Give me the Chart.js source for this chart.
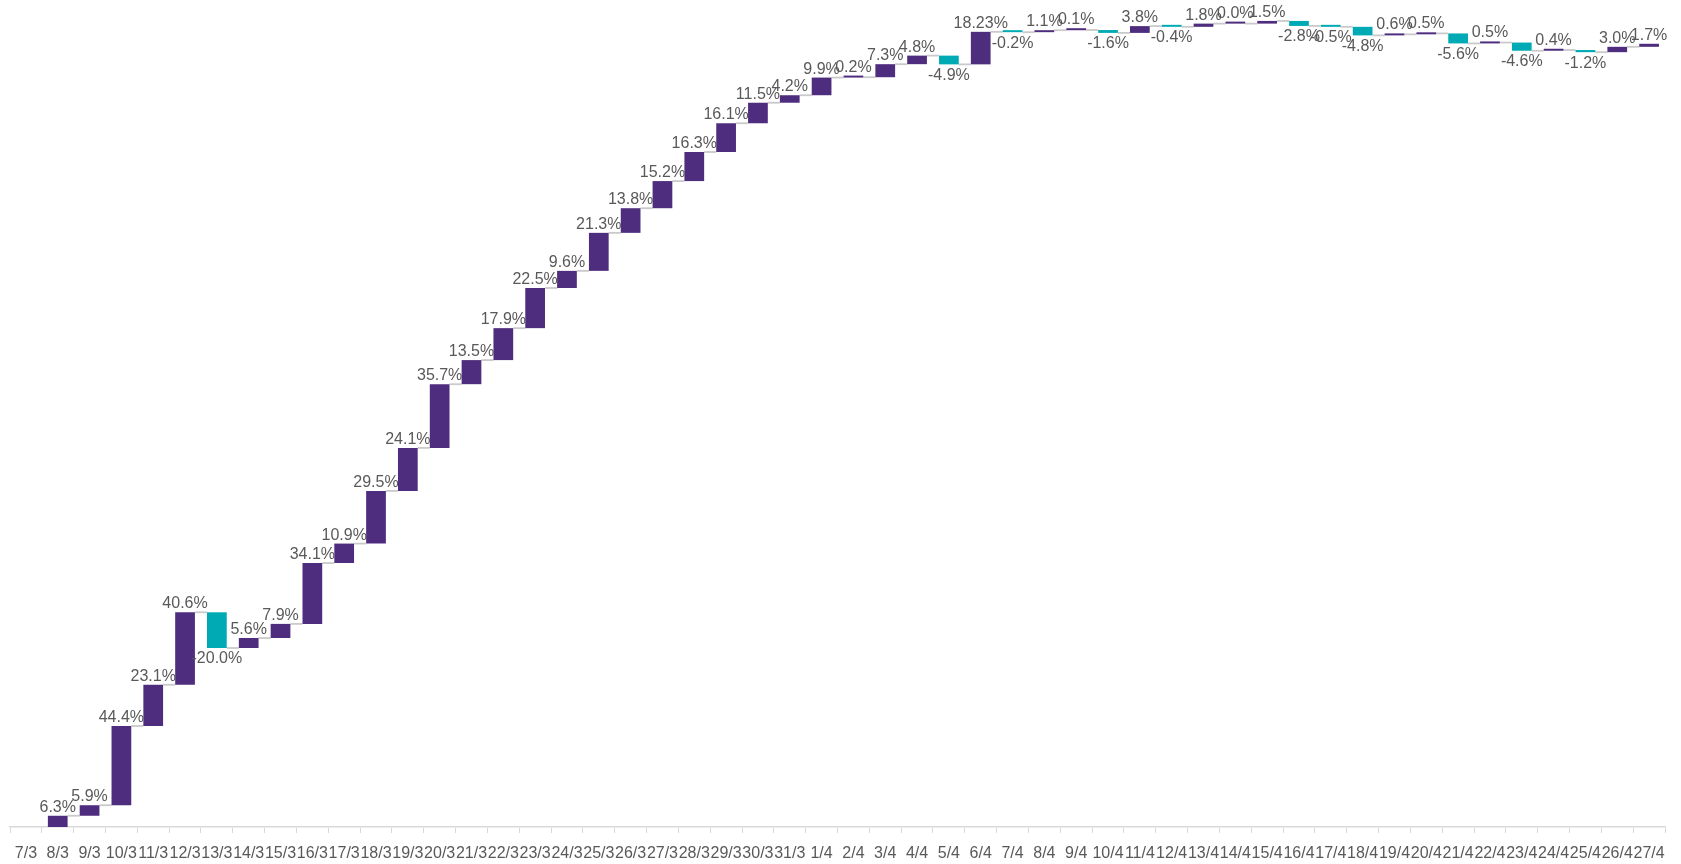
<!DOCTYPE html>
<html>
<head>
<meta charset="utf-8">
<script src="https://cdn.jsdelivr.net/npm/chart.js@4.4.1/dist/chart.umd.min.js"></script>
<style>
  html, body { margin: 0; padding: 0; background: #fff; }
  canvas { display: block; }
</style>
</head>
<body>
<canvas id="waterfall" width="1681" height="864"></canvas>
<script>
// days (7 March - 27 April)
var days = ['7/3', '8/3', '9/3', '10/3', '11/3', '12/3', '13/3', '14/3', '15/3', '16/3',
    '17/3', '18/3', '19/3', '20/3', '21/3', '22/3', '23/3', '24/3', '25/3', '26/3',
    '27/3', '28/3', '29/3', '30/3', '31/3', '1/4', '2/4', '3/4', '4/4', '5/4',
    '6/4', '7/4', '8/4', '9/4', '10/4', '11/4', '12/4', '13/4', '14/4', '15/4',
    '16/4', '17/4', '18/4', '19/4', '20/4', '21/4', '22/4', '23/4', '24/4', '25/4',
    '26/4', '27/4'];

// daily change in %
var changes = [null, 6.3, 5.9, 44.4, 23.1, 40.6, -20.0, 5.6, 7.9, 34.1,
    10.9, 29.5, 24.1, 35.7, 13.5, 17.9, 22.5, 9.6, 21.3, 13.8,
    15.2, 16.3, 16.1, 11.5, 4.2, 9.9, 0.2, 7.3, 4.8, -4.9,
    18.23, -0.2, 1.1, 0.1, -1.6, 3.8, -0.4, 1.8, 0.0, 1.5,
    -2.8, -0.5, -4.8, 0.6, 0.5, -5.6, 0.5, -4.6, 0.4, -1.2,
    3.0, 1.7];

var upColor = '#4E2D7E';
var downColor = '#00AAB5';
var textColor = '#595959';
var fontFamily = '"Liberation Sans Narrow", "Liberation Sans", Arial, sans-serif';

// floating bars: [start, end] from the running total
var bars = [];
var total = 0;
for (var i = 0; i < changes.length; i++) {
    if (changes[i] === null) { bars.push(null); continue; }
    bars.push([total, total + changes[i]]);
    total += changes[i];
}

function fmt(v) {
    var s = (Math.round(v * 10) === v * 10) ? v.toFixed(1) : String(v);
    return s + '%';
}

// grey connectors between the bars
var connectors = {
    id: 'connectors',
    beforeDatasetsDraw: function (chart) {
        var meta = chart.getDatasetMeta(0);
        var y = chart.scales.y;
        var ctx = chart.ctx;
        ctx.save();
        ctx.strokeStyle = '#CACACA';
        ctx.lineWidth = 1.8;
        for (var i = 0; i < bars.length - 1; i++) {
            if (!bars[i] || !bars[i + 1]) continue;
            var a = meta.data[i], b = meta.data[i + 1];
            var py = y.getPixelForValue(bars[i][1]);
            ctx.beginPath();
            ctx.moveTo(a.x + a.width / 2, py);
            ctx.lineTo(b.x - b.width / 2, py);
            ctx.stroke();
        }
        ctx.restore();
    }
};

// value labels above / below the bars
var valueLabels = {
    id: 'valueLabels',
    afterDatasetsDraw: function (chart) {
        var meta = chart.getDatasetMeta(0);
        var ctx = chart.ctx;
        ctx.save();
        ctx.font = '16px ' + fontFamily;
        ctx.fillStyle = textColor;
        ctx.textAlign = 'center';
        for (var i = 0; i < changes.length; i++) {
            if (changes[i] === null) continue;
            var el = meta.data[i];
            var top = Math.min(el.y, el.base), bottom = Math.max(el.y, el.base);
            if (changes[i] >= 0) {
                ctx.textBaseline = 'alphabetic';
                ctx.fillText(fmt(changes[i]), el.x, top - 4);
            } else {
                ctx.textBaseline = 'top';
                ctx.fillText(fmt(changes[i]), el.x, bottom + 3);
            }
        }
        ctx.restore();
    }
};

var ctx = document.getElementById('waterfall').getContext('2d');

var chart = new Chart(ctx, {
    type: 'bar',
    data: {
        labels: days,
        datasets: [{
            data: bars,
            backgroundColor: changes.map(function (v) { return v < 0 ? downColor : upColor; }),
            barPercentage: 0.62,
            categoryPercentage: 1,
            minBarLength: 2
        }]
    },
    options: {
        responsive: false,
        animation: false,
        layout: { padding: { left: 10, right: 16, top: 6, bottom: 0 } },
        plugins: {
            legend: { display: false },
            tooltip: { enabled: false }
        },
        scales: {
            x: {
                grid: { offset: true, drawOnChartArea: false, tickLength: 6, color: '#D9D9D9' },
                border: { color: '#D9D9D9', width: 1.5 },
                ticks: {
                    autoSkip: false,
                    maxRotation: 0,
                    minRotation: 0,
                    padding: 11,
                    color: textColor,
                    font: { family: fontFamily, size: 16 }
                },
                afterFit: function (scale) { scale.height = 37; }
            },
            y: {
                display: false,
                min: 0,
                max: 460
            }
        }
    },
    plugins: [connectors, valueLabels]
});
</script>
</body>
</html>
